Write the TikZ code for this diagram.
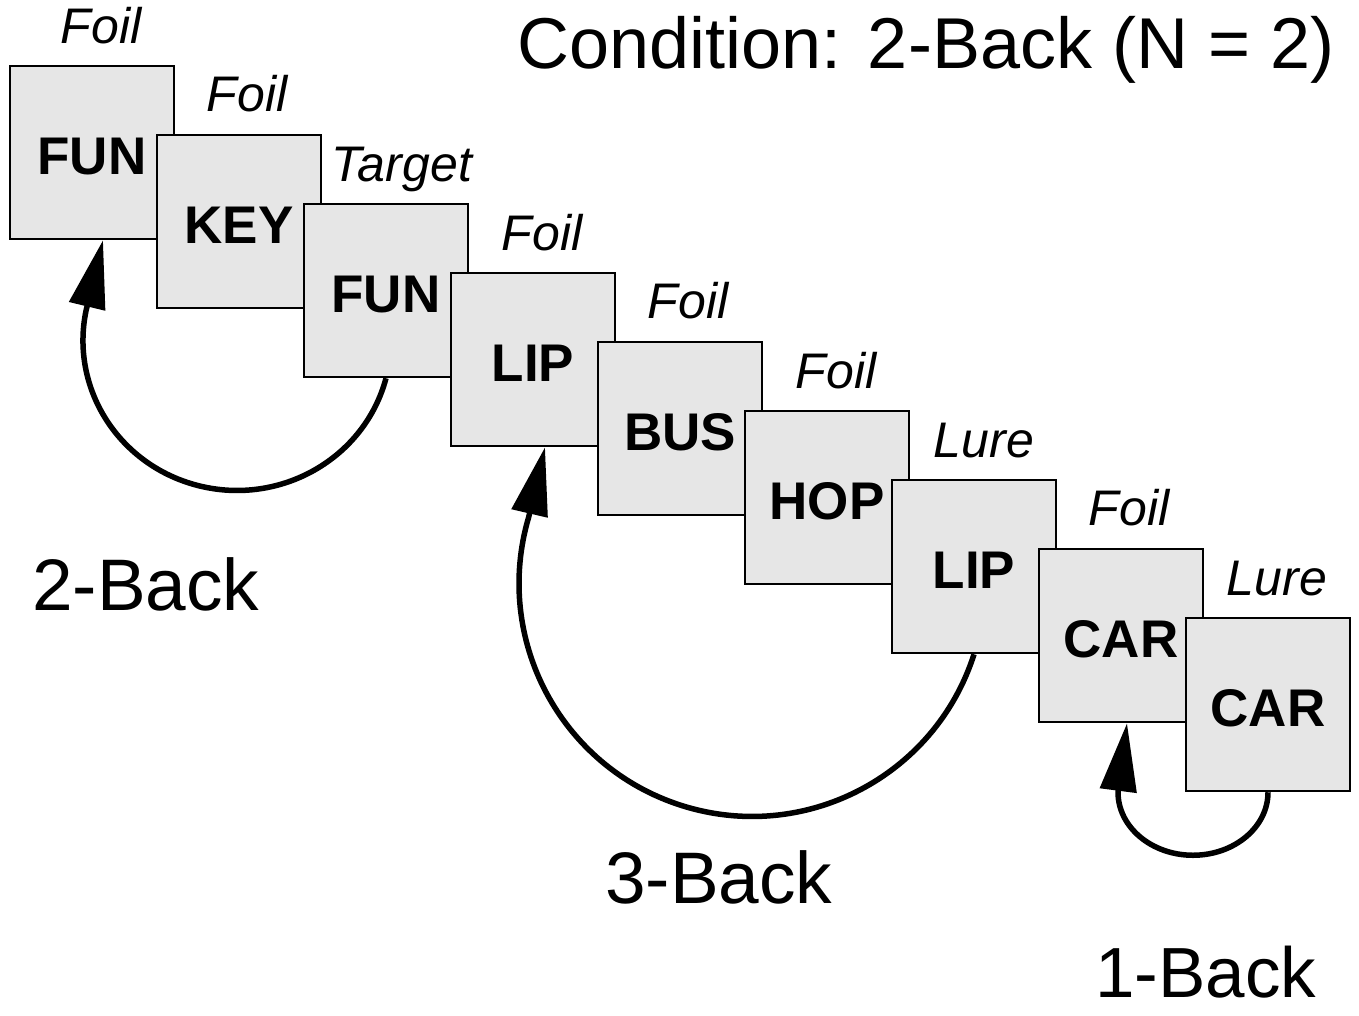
\documentclass[tikz,border=0pt]{standalone}
\usepackage{fontspec}
\setmainfont{Liberation Sans}
\usetikzlibrary{arrows.meta}
\definecolor{boxgray}{RGB}{230,230,230}
\begin{document}
\begin{tikzpicture}[x=1pt,y=1pt,
  word/.style={draw=black, line width=2.5pt, fill=boxgray, minimum width=164pt, minimum height=173pt, inner sep=0pt, text height=44pt, text depth=0pt, font=\fontsize{53}{60}\selectfont\bfseries},
  lab/.style={anchor=base west, inner sep=0pt, font=\fontsize{50}{56}\selectfont\itshape},
  big/.style={anchor=base west, inner sep=0pt, font=\fontsize{73}{80}\selectfont},
  link/.style={line width=5.5pt, -{Triangle[length=68pt,width=36pt]}}]
\useasboundingbox (0,0) rectangle (1359,-1015);
% boxes
\node[word] (b1) at (92,-152.5) {FUN};
\node[word] (b2) at (239,-221.5) {KEY};
\node[word] (b3) at (386,-290.5) {FUN};
\node[word] (b4) at (533,-359.5) {LIP};
\node[word] (b5) at (680,-428.5) {BUS};
\node[word] (b6) at (827,-497.5) {HOP};
\node[word] (b7) at (974,-566.5) {LIP};
\node[word] (b8) at (1121,-635.5) {CAR};
\node[word] (b9) at (1268,-704.5) {CAR};
% labels above boxes
\node[lab] (l1) at ([xshift=52pt,yshift=21pt]b1.north west) {Foil};
\node[lab] (l2) at ([xshift=51pt,yshift=22pt]b2.north west) {Foil};
\node[lab] (l3) at ([xshift=29pt,yshift=21pt]b3.north west) {Target};
\node[lab] (l4) at ([xshift=52pt,yshift=21pt]b4.north west) {Foil};
\node[lab] (l5) at ([xshift=51pt,yshift=22pt]b5.north west) {Foil};
\node[lab] (l6) at ([xshift=52pt,yshift=21pt]b6.north west) {Foil};
\node[lab] (l7) at ([xshift=43pt,yshift=21pt]b7.north west) {Lure};
\node[lab] (l8) at ([xshift=51pt,yshift=22pt]b8.north west) {Foil};
\node[lab] (l9) at ([xshift=42pt,yshift=21pt]b9.north west) {Lure};
% big labels
\node[big, font=\fontsize{72}{80}\selectfont] (title) at (517,-68) {Condition: 2-Back (N = 2)};
\node[big] (t2) at (32,-610) {2-Back};
\node[big] (t3) at (605,-903) {3-Back};
\node[big, font=\fontsize{71}{80}\selectfont] (t1) at (1095,-997) {1-Back};
% arcs
\draw[link] (b3.south) arc[start angle=-14.6, end angle=-191.5, x radius=154, y radius=150] -- ([xshift=11pt]b1.south);
\draw[link] (b7.south) arc[start angle=-17.7, end angle=-196.5, radius=233] -- ([xshift=12pt]b4.south);
\draw[link] (b9.south) arc[start angle=0, end angle=-180, x radius=75, y radius=63] -- ([xshift=6pt]b8.south);
\end{tikzpicture}
\end{document}
